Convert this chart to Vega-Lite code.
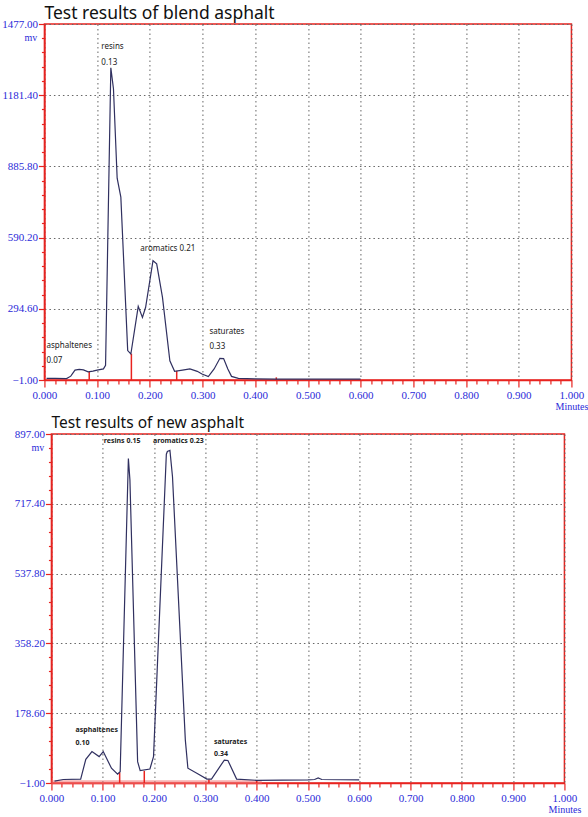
{
  "$schema": "https://vega.github.io/schema/vega-lite/v6.json",
  "background": "white",
  "padding": {"left": 0, "top": 3, "right": 0, "bottom": 0},
  "spacing": 2,
  "center": true,
  "config": {
    "view": {"stroke": "#e8231f", "strokeWidth": 1.5},
    "axis": {
      "domainColor": "#e8231f", "domainWidth": 1.5, "tickColor": "#e8231f", "tickWidth": 1.2,
      "labelColor": "#2a2ad8", "labelFont": "Liberation Serif", "labelFontSize": 11,
      "labelFlush": false, "labelOverlap": false, "labelBound": false,
      "gridColor": "#666666", "gridDash": [1.5, 3], "gridWidth": 1,
      "titleColor": "#2a2ad8", "titleFont": "Liberation Serif", "titleFontSize": 10, "titleFontWeight": "normal",
      "titleAngle": 0, "titleAlign": "center", "titleBaseline": "middle"
    },
    "title": {"anchor": "start", "frame": "group", "font": "Noto Sans", "fontWeight": "normal", "color": "#111111", "baseline": "alphabetic"}
  },
  "datasets": {
    "blend": [
      {"t": 0.004, "v": 6}, {"t": 0.02, "v": 6}, {"t": 0.042, "v": 5}, {"t": 0.05, "v": 15}, {"t": 0.058, "v": 40},
      {"t": 0.066, "v": 43}, {"t": 0.074, "v": 41}, {"t": 0.083, "v": 33}, {"t": 0.092, "v": 36}, {"t": 0.1, "v": 40},
      {"t": 0.112, "v": 45}, {"t": 0.116, "v": 60}, {"t": 0.126, "v": 1295}, {"t": 0.131, "v": 1208}, {"t": 0.138, "v": 837},
      {"t": 0.145, "v": 758}, {"t": 0.158, "v": 121}, {"t": 0.164, "v": 107}, {"t": 0.178, "v": 305}, {"t": 0.186, "v": 259},
      {"t": 0.192, "v": 301}, {"t": 0.206, "v": 494}, {"t": 0.213, "v": 481}, {"t": 0.224, "v": 342}, {"t": 0.238, "v": 79},
      {"t": 0.247, "v": 35}, {"t": 0.262, "v": 40}, {"t": 0.276, "v": 45}, {"t": 0.29, "v": 35}, {"t": 0.299, "v": 24},
      {"t": 0.311, "v": 13}, {"t": 0.322, "v": 45}, {"t": 0.333, "v": 89}, {"t": 0.34, "v": 88}, {"t": 0.348, "v": 45},
      {"t": 0.355, "v": 14}, {"t": 0.368, "v": 6}, {"t": 0.4, "v": 4}, {"t": 0.44, "v": 3}, {"t": 0.5, "v": 3}, {"t": 0.6, "v": 3}
    ],
    "blendMarks": [
      {"t": 0.085, "v": 33}, {"t": 0.165, "v": 108}, {"t": 0.251, "v": 37}, {"t": 0.44, "v": 10}
    ],
    "blendLabels": [
      {"t": 0.108, "v": 1381, "label": "resins"},
      {"t": 0.108, "v": 1315, "label": "0.13"},
      {"t": 0.182, "v": 543, "label": "aromatics 0.21"},
      {"t": 0.004, "v": 141, "label": "asphaltenes"},
      {"t": 0.004, "v": 79, "label": "0.07"},
      {"t": 0.313, "v": 197, "label": "saturates"},
      {"t": 0.313, "v": 137, "label": "0.33"}
    ],
    "newA": [
      {"t": 0.006, "v": 4}, {"t": 0.023, "v": 8}, {"t": 0.057, "v": 9}, {"t": 0.067, "v": 60}, {"t": 0.079, "v": 80},
      {"t": 0.093, "v": 67}, {"t": 0.101, "v": 80}, {"t": 0.117, "v": 37}, {"t": 0.129, "v": 22}, {"t": 0.134, "v": 28},
      {"t": 0.15, "v": 834}, {"t": 0.153, "v": 779}, {"t": 0.168, "v": 54}, {"t": 0.173, "v": 31}, {"t": 0.192, "v": 35},
      {"t": 0.199, "v": 67}, {"t": 0.224, "v": 845}, {"t": 0.226, "v": 852}, {"t": 0.231, "v": 855}, {"t": 0.236, "v": 787},
      {"t": 0.261, "v": 110}, {"t": 0.266, "v": 37}, {"t": 0.286, "v": 22}, {"t": 0.303, "v": 9}, {"t": 0.312, "v": 9},
      {"t": 0.337, "v": 58}, {"t": 0.344, "v": 57}, {"t": 0.361, "v": 9}, {"t": 0.4, "v": 6}, {"t": 0.5, "v": 7},
      {"t": 0.513, "v": 8}, {"t": 0.52, "v": 12}, {"t": 0.527, "v": 8}, {"t": 0.6, "v": 7}
    ],
    "newMarks": [
      {"t": 0.133, "v": 26}, {"t": 0.181, "v": 30}, {"t": 0.307, "v": 8}, {"t": 0.4, "v": 6}
    ],
    "newBase": [
      {"t0": 0.0, "t1": 0.41, "v": 1}
    ],
    "newLabels": [
      {"t": 0.102, "v": 879, "label": "resins 0.15"},
      {"t": 0.198, "v": 879, "label": "aromatics 0.23"},
      {"t": 0.047, "v": 135, "label": "asphaltenes"},
      {"t": 0.047, "v": 103, "label": "0.10"},
      {"t": 0.317, "v": 105, "label": "saturates"},
      {"t": 0.317, "v": 73, "label": "0.34"}
    ]
  },
  "vconcat": [
    {
      "title": {"text": "Test results of blend asphalt", "fontSize": 17.5, "offset": 2, "dy": 6},
      "width": 527,
      "height": 356,
      "encoding": {
        "x": {
          "field": "t", "type": "quantitative",
          "scale": {"domain": [0, 1], "nice": false, "zero": false},
          "axis": {
            "values": [0, 0.02, 0.04, 0.06, 0.08, 0.1, 0.12, 0.14, 0.16, 0.18, 0.2, 0.22, 0.24, 0.26, 0.28, 0.3, 0.32, 0.34, 0.36, 0.38, 0.4, 0.42, 0.44, 0.46, 0.48, 0.5, 0.52, 0.54, 0.56, 0.58, 0.6, 0.62, 0.64, 0.66, 0.68, 0.7, 0.72, 0.74, 0.76, 0.78, 0.8, 0.82, 0.84, 0.86, 0.88, 0.9, 0.92, 0.94, 0.96, 0.98, 1],
            "labelExpr": "abs(datum.value*10 - round(datum.value*10)) < 0.001 ? format(datum.value, '.3f') : ''",
            "tickSize": {"condition": {"test": "abs(datum.value*10 - round(datum.value*10)) < 0.001", "value": 7}, "value": 4},
            "grid": true,
            "gridOpacity": {"condition": {"test": "abs(datum.value*10 - round(datum.value*10)) < 0.001", "value": 1}, "value": 0},
            "labelPadding": 2,
            "title": "Minutes", "titleX": 527, "titleY": 26
          }
        },
        "y": {
          "field": "v", "type": "quantitative",
          "scale": {"domain": [-1, 1477], "nice": false, "zero": false},
          "axis": {
            "values": [-1, 58.12, 117.24, 176.36, 235.48, 294.6, 353.72, 412.84, 471.96, 531.08, 590.2, 649.32, 708.44, 767.56, 826.68, 885.8, 944.92, 1004.04, 1063.16, 1122.28, 1181.4, 1240.52, 1299.64, 1358.76, 1417.88, 1477],
            "labelExpr": "abs((datum.value+1)/295.6 - round((datum.value+1)/295.6)) < 0.01 ? format(datum.value, '.2f') : ''",
            "tickSize": {"condition": {"test": "abs((datum.value+1)/295.6 - round((datum.value+1)/295.6)) < 0.01", "value": 6}, "value": 3},
            "grid": true,
            "gridOpacity": {"condition": {"test": "abs((datum.value+1)/295.6 - round((datum.value+1)/295.6)) < 0.01", "value": 1}, "value": 0},
            "labelPadding": 1,
            "title": "mv", "titleX": -14, "titleY": 13
          }
        }
      },
      "layer": [
        {
          "data": {"name": "blendMarks"},
          "mark": {"type": "rule", "color": "#e8231f", "strokeWidth": 1.5},
          "encoding": {"y2": {"datum": -1}}
        },
        {
          "data": {"name": "blend"},
          "mark": {"type": "line", "color": "#303060", "strokeWidth": 1.2}
        },
        {
          "data": {"name": "blendLabels"},
          "mark": {"type": "text", "align": "left", "baseline": "middle", "font": "Noto Sans", "fontSize": 8, "color": "#1a1a1a"},
          "encoding": {"text": {"field": "label"}}
        }
      ]
    },
    {
      "title": {"text": "Test results of new asphalt", "fontSize": 15.5, "offset": 1, "dy": 4},
      "width": 513,
      "height": 349,
      "encoding": {
        "x": {
          "field": "t", "type": "quantitative",
          "scale": {"domain": [0, 1], "nice": false, "zero": false},
          "axis": {
            "values": [0, 0.02, 0.04, 0.06, 0.08, 0.1, 0.12, 0.14, 0.16, 0.18, 0.2, 0.22, 0.24, 0.26, 0.28, 0.3, 0.32, 0.34, 0.36, 0.38, 0.4, 0.42, 0.44, 0.46, 0.48, 0.5, 0.52, 0.54, 0.56, 0.58, 0.6, 0.62, 0.64, 0.66, 0.68, 0.7, 0.72, 0.74, 0.76, 0.78, 0.8, 0.82, 0.84, 0.86, 0.88, 0.9, 0.92, 0.94, 0.96, 0.98, 1],
            "labelExpr": "abs(datum.value*10 - round(datum.value*10)) < 0.001 ? format(datum.value, '.3f') : ''",
            "tickSize": {"condition": {"test": "abs(datum.value*10 - round(datum.value*10)) < 0.001", "value": 7}, "value": 4},
            "grid": true,
            "gridOpacity": {"condition": {"test": "abs(datum.value*10 - round(datum.value*10)) < 0.001", "value": 1}, "value": 0},
            "labelPadding": 2,
            "title": "Minutes", "titleX": 513, "titleY": 26
          }
        },
        "y": {
          "field": "v", "type": "quantitative",
          "scale": {"domain": [-1, 897], "nice": false, "zero": false},
          "axis": {
            "values": [-1, 34.92, 70.84, 106.76, 142.68, 178.6, 214.52, 250.44, 286.36, 322.28, 358.2, 394.12, 430.04, 465.96, 501.88, 537.8, 573.72, 609.64, 645.56, 681.48, 717.4, 753.32, 789.24, 825.16, 861.08, 897],
            "labelExpr": "abs((datum.value+1)/179.6 - round((datum.value+1)/179.6)) < 0.01 ? format(datum.value, '.2f') : ''",
            "tickSize": {"condition": {"test": "abs((datum.value+1)/179.6 - round((datum.value+1)/179.6)) < 0.01", "value": 6}, "value": 3},
            "grid": true,
            "gridOpacity": {"condition": {"test": "abs((datum.value+1)/179.6 - round((datum.value+1)/179.6)) < 0.01", "value": 1}, "value": 0},
            "labelPadding": 1,
            "title": "mv", "titleX": -14, "titleY": 13
          }
        }
      },
      "layer": [
        {
          "data": {"name": "newBase"},
          "mark": {"type": "rule", "color": "#f07070", "opacity": 0.55, "strokeWidth": 4},
          "encoding": {"x": {"field": "t0", "type": "quantitative"}, "x2": {"field": "t1"}, "y": {"field": "v", "type": "quantitative"}}
        },
        {
          "data": {"name": "newMarks"},
          "mark": {"type": "rule", "color": "#e8231f", "strokeWidth": 1.5},
          "encoding": {"y2": {"datum": -1}}
        },
        {
          "data": {"name": "newA"},
          "mark": {"type": "line", "color": "#303060", "strokeWidth": 1.2}
        },
        {
          "data": {"name": "newLabels"},
          "mark": {"type": "text", "align": "left", "baseline": "middle", "font": "Noto Sans", "fontSize": 7, "fontWeight": "bold", "color": "#222222"},
          "encoding": {"text": {"field": "label"}}
        }
      ]
    }
  ]
}
